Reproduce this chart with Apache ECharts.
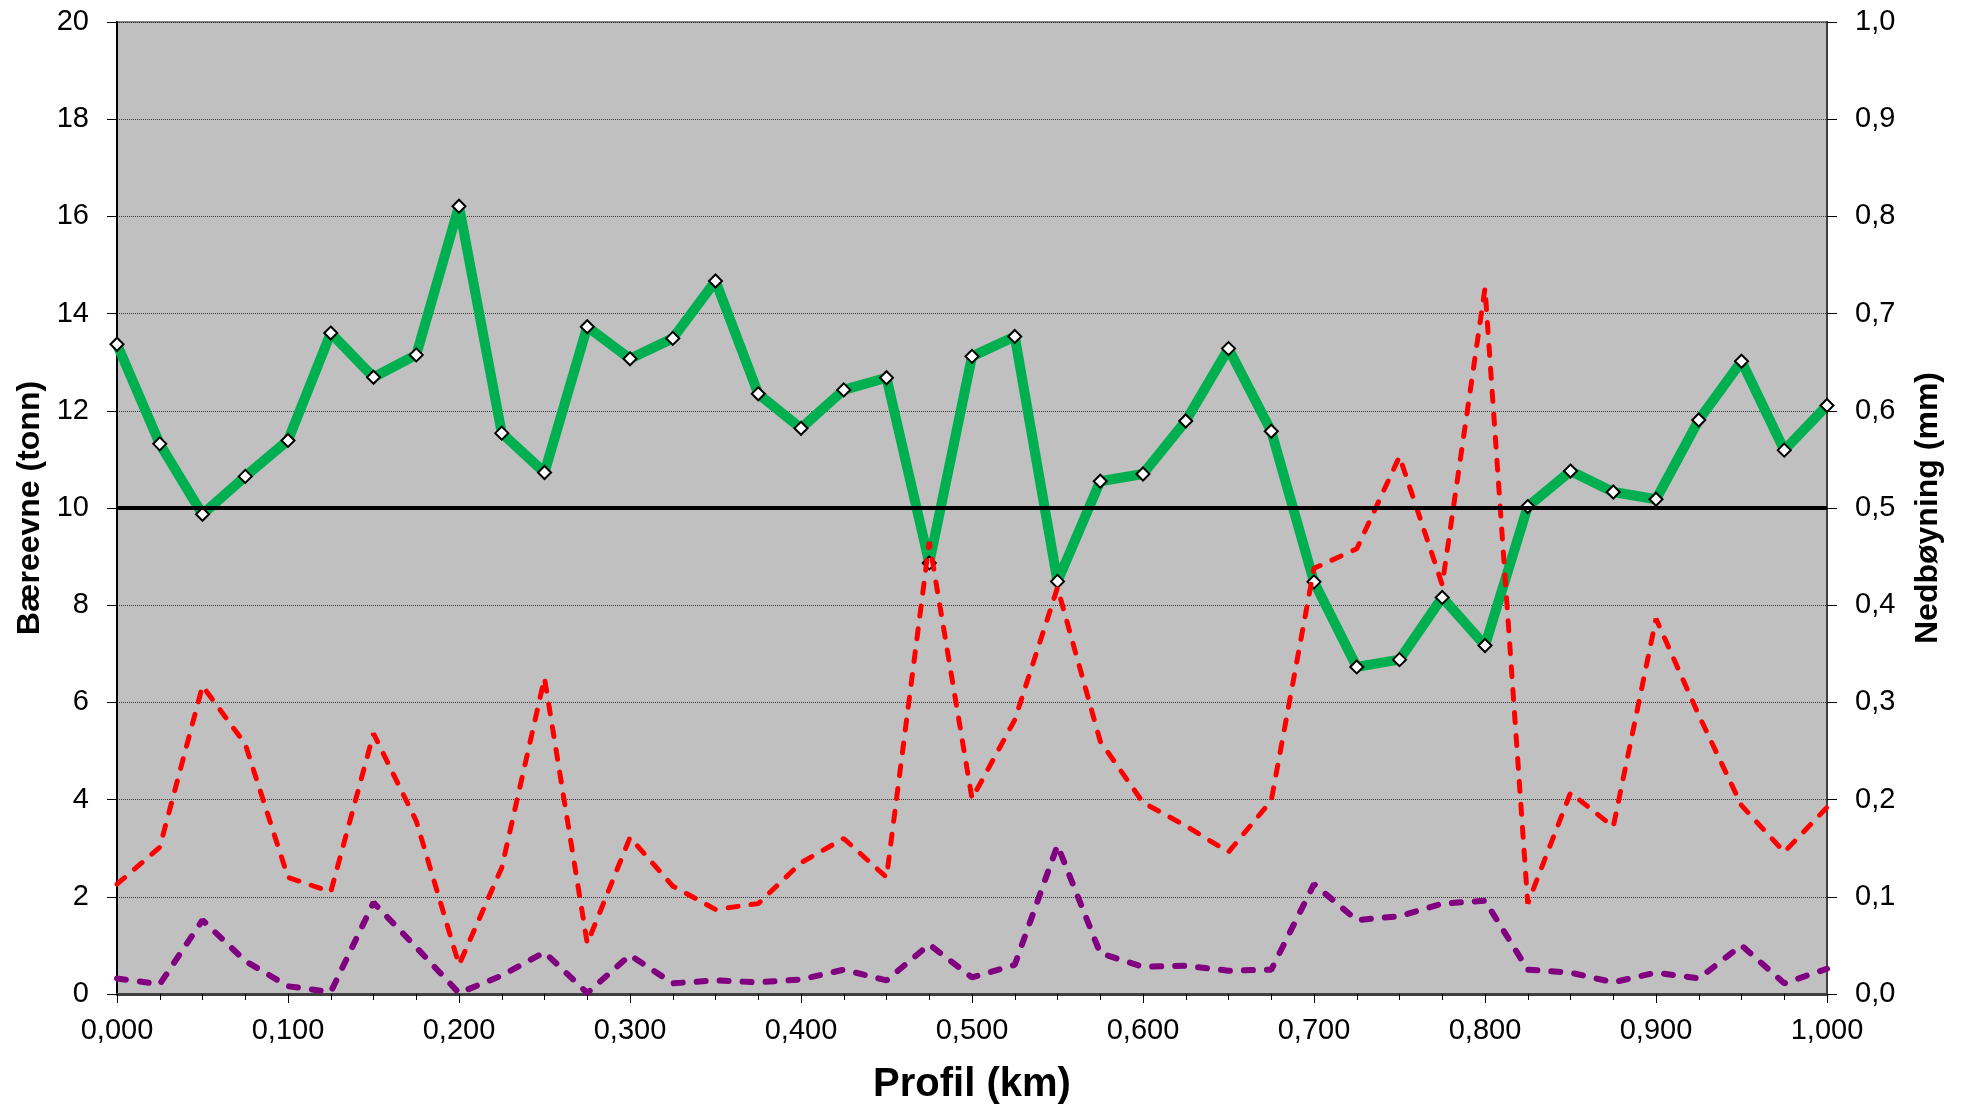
<!DOCTYPE html>
<html><head><meta charset="utf-8">
<script src="https://cdn.jsdelivr.net/npm/echarts@6/dist/echarts.min.js"></script>
<style>html,body{margin:0;padding:0;background:#fff}#c{width:1966px;height:1110px}</style>
</head><body><div id="c"></div>
<script>
const profil = [0.000,0.025,0.050,0.075,0.100,0.125,0.150,0.175,0.200,0.225,0.250,0.275,0.300,0.325,0.350,0.375,0.400,0.425,0.450,0.475,0.500,0.525,0.550,0.575,0.600,0.625,0.650,0.675,0.700,0.725,0.750,0.775,0.800,0.825,0.850,0.875,0.900,0.925,0.950,0.975,1.000];
const baereevne = [13.37,11.32,9.87,10.65,11.39,13.60,12.69,13.15,16.21,11.54,10.73,13.73,13.07,13.49,14.67,12.35,11.64,12.43,12.68,8.87,13.12,13.53,8.49,10.55,10.70,11.79,13.28,11.58,8.48,6.73,6.88,8.16,7.17,10.03,10.76,10.33,10.18,11.81,13.02,11.19,12.11];
const nedboyningRod = [0.113,0.151,0.317,0.257,0.120,0.105,0.268,0.178,0.030,0.130,0.325,0.052,0.161,0.111,0.087,0.093,0.135,0.160,0.120,0.465,0.201,0.282,0.418,0.260,0.197,0.173,0.146,0.199,0.438,0.458,0.553,0.421,0.726,0.093,0.207,0.172,0.386,0.287,0.194,0.146,0.192];
const nedboyningLilla = [0.016,0.010,0.076,0.034,0.008,0.002,0.094,0.048,0.001,0.019,0.043,0.001,0.040,0.011,0.014,0.012,0.015,0.025,0.014,0.051,0.017,0.030,0.153,0.042,0.028,0.029,0.024,0.025,0.113,0.076,0.080,0.093,0.096,0.025,0.022,0.012,0.022,0.016,0.050,0.011,0.026];
const grenseverdi = 10;
const grenseX = [0, 1];

const pairs = (xs, ys) => xs.map((x, i) => [x, ys[i]]);
const FONT = '"Liberation Sans", Arial, sans-serif';
const chart = echarts.init(document.getElementById('c'));
chart.setOption({
  animation: false,
  backgroundColor: '#ffffff',
  grid: { left: 117, right: 139, top: 22, bottom: 116, show: true, backgroundColor: '#c0c0c0', borderColor: '#808080', borderWidth: 2 },
  xAxis: {
    type: 'value', min: 0, max: 1, interval: 0.1,
    name: 'Profil (km)', nameLocation: 'middle', nameGap: 71,
    nameTextStyle: { fontFamily: FONT, fontSize: 40, fontWeight: 'bold', color: '#000' },
    axisLine: { show: true, onZero: false, lineStyle: { color: '#404040', width: 3 } },
    axisTick: { show: true, inside: false, length: 9, lineStyle: { color: '#000', width: 1 } },
    minorTick: { show: true, splitNumber: 4, length: 6, lineStyle: { color: '#000', width: 1 } },
    splitLine: { show: false },
    axisLabel: { fontFamily: FONT, fontSize: 29, color: '#000', margin: 22, formatter: v => v.toFixed(3).replace('.', ',') }
  },
  yAxis: [
    {
      type: 'value', min: 0, max: 20, interval: 2, position: 'left',
      name: 'Bæreevne (tonn)', nameLocation: 'middle', nameGap: 70, nameRotate: 90,
      nameTextStyle: { fontFamily: FONT, fontSize: 32, fontWeight: 'bold', color: '#000' },
      axisLine: { show: true, lineStyle: { color: '#000', width: 2 } },
      axisTick: { show: true, length: 10, lineStyle: { color: '#000', width: 1 } },
      splitLine: { show: true, lineStyle: { color: '#3a3a3a', width: 1, type: [1, 1] } },
      axisLabel: { fontFamily: FONT, fontSize: 29, color: '#000', margin: 28 }
    },
    {
      type: 'value', min: 0, max: 1, interval: 0.1, position: 'right',
      name: 'Nedbøyning (mm)', nameLocation: 'middle', nameGap: 85, nameRotate: 90,
      nameTextStyle: { fontFamily: FONT, fontSize: 32, fontWeight: 'bold', color: '#000' },
      axisLine: { show: true, lineStyle: { color: '#404040', width: 2 } },
      axisTick: { show: true, length: 10, lineStyle: { color: '#000', width: 1 } },
      splitLine: { show: false },
      axisLabel: { fontFamily: FONT, fontSize: 29, color: '#000', margin: 28, formatter: v => v.toFixed(1).replace('.', ',') }
    }
  ],
  series: [
    {
      name: 'Bæreevne', type: 'line', yAxisIndex: 0, z: 2,
      data: pairs(profil, baereevne),
      lineStyle: { color: '#00b050', width: 10 },
      symbol: 'diamond', symbolSize: 13, showSymbol: true,
      itemStyle: { color: '#ffffff', borderColor: '#000000', borderWidth: 2 }
    },
    {
      name: 'Nedbøyning', type: 'line', yAxisIndex: 1, z: 3,
      data: pairs(profil, nedboyningRod), showSymbol: false, symbol: 'none',
      lineStyle: { color: '#ff0000', width: 5, type: [10, 13], cap: 'round' }
    },
    {
      name: 'Nedbøyning 2', type: 'line', yAxisIndex: 1, z: 3,
      data: pairs(profil, nedboyningLilla), showSymbol: false, symbol: 'none',
      lineStyle: { color: '#800080', width: 6, type: [9, 14], cap: 'round' }
    },
    {
      name: 'Grense', type: 'line', yAxisIndex: 0, z: 4,
      data: grenseX.map(x => [x, grenseverdi]), showSymbol: false, symbol: 'none',
      lineStyle: { color: '#000000', width: 4 }
    }
  ]
});
</script>
</body></html>
